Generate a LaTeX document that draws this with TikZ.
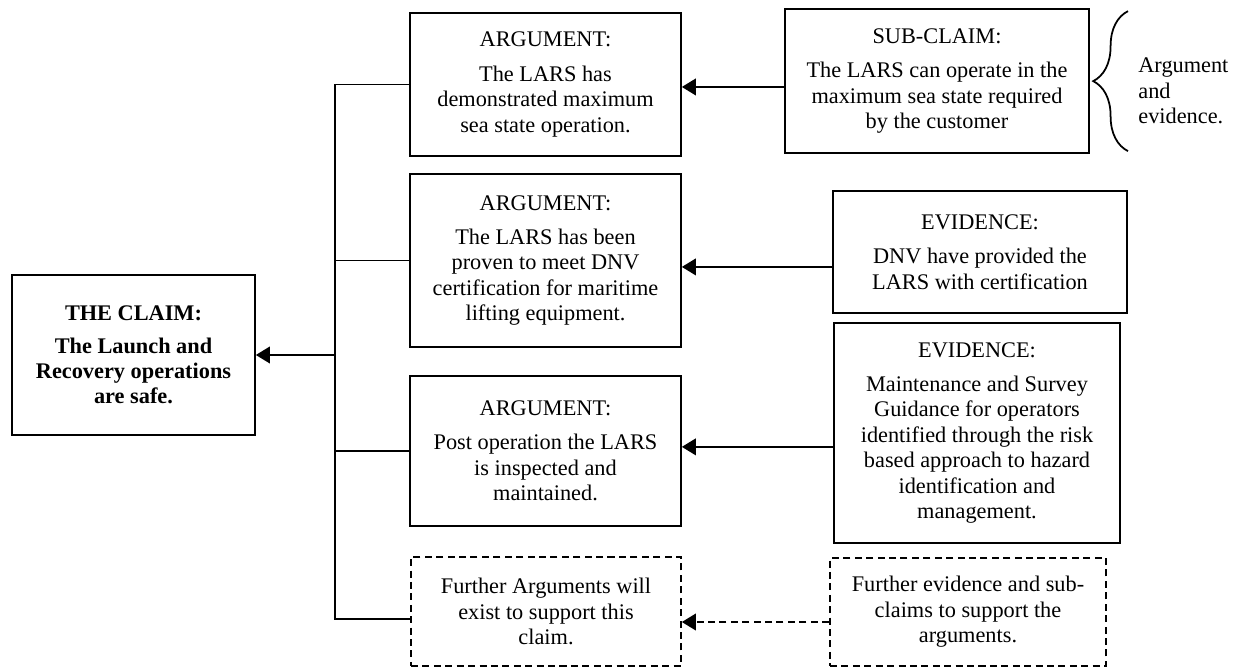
\documentclass[tikz,border=0pt]{standalone}
\usepackage{fontspec}
\setmainfont{Liberation Serif}
\usetikzlibrary{arrows.meta,decorations.pathreplacing}
\newcommand\chu{\fontsize{12.7}{14.5}\selectfont}
\begin{document}
\begin{tikzpicture}[x=.02cm,y=-.02cm,font=\chu,
 hop/.style={draw,line width=1pt,align=center,inner sep=2pt},
 hopmo/.style={hop,dash pattern=on 4pt off 2.5pt},
 noi/.style={line width=1pt}]
 \useasboundingbox (0,0) rectangle (1238,668);
 \path
 (133.5,355) node[hop,minimum width=4.86cm,minimum height=3.2cm,
 font=\chu\bfseries] (claim) {THE CLAIM:\\[4pt]The Launch and\\Recovery operations\\are safe.} % <<< cột 1
 (545.5,84.5) node[hop,minimum width=5.42cm,minimum height=2.86cm] (a1)
 {ARGUMENT:\\[5pt]The LARS has\\demonstrated maximum\\sea state operation.} % <<< cột 2
 (545.5,260.5) node[hop,minimum width=5.42cm,minimum height=3.46cm] (a2)
 {ARGUMENT:\\[5pt]The LARS has been\\proven to meet DNV\\certification for maritime\\lifting equipment.}
 (545.5,451) node[hop,minimum width=5.42cm,minimum height=3cm] (a3)
 {ARGUMENT:\\[5pt]Post operation the LARS\\is inspected and\\maintained.}
 (546,611.5) node[hopmo,minimum width=5.4cm,minimum height=2.18cm] (a4)
 {Further Arguments will\\exist to support this\\claim.}
 (937,81) node[hop,minimum width=6.08cm,minimum height=2.88cm] (sub) % <<< cột 3
 {SUB-CLAIM:\\[5pt]The LARS can operate in the\\maximum sea state required\\by the customer}
 (980,252) node[hop,minimum width=5.88cm,minimum height=2.44cm] (e1)
 {EVIDENCE:\\[5pt]DNV have provided the\\LARS with certification}
 (977,433) node[hop,minimum width=5.72cm,minimum height=4.4cm] (e2)
 {EVIDENCE:\\[5pt]Maintenance and Survey\\Guidance for operators\\identified through the risk\\based approach to hazard\\identification and\\management.}
 (968,612) node[hopmo,minimum width=5.52cm,minimum height=2.16cm] (e3)
 {Further evidence and sub-\\claims to support the\\arguments.}
 (1138,91) node[anchor=west,align=left,inner sep=0pt] (nhan)
 {Argument\\and\\evidence.};
 % thân nối các luận cứ
 \coordinate (goc) at (335,355);
 \coordinate (d4) at ([yshift=-4.3pt]a4.west);
 \draw[noi] (a1.west) -| (goc) |- (d4);
 \draw[noi] (a2.west) -- (a2.west -| goc);
 \draw[noi] (a3.west) -- (a3.west -| goc);
 % điểm xuất phát mũi tên
 \coordinate (s0) at ([yshift=-3.4pt]sub.west);
 \coordinate (s1) at ([yshift=-8.5pt]e1.west);
 \coordinate (s2) at ([yshift=-7.9pt]e2.west);
 \coordinate (s3) at ([yshift=-5.7pt]e3.west);
 \begin{scope}[noi,-{Triangle[length=8pt,width=9.5pt]}]
 \draw (goc) -- (claim.east);
 \draw (s0) -- (s0 -| a1.east);
 \draw (s1) -- (s1 -| a2.east);
 \draw (s2) -- (s2 -| a3.east);
 \draw[dash pattern=on 4pt off 2.5pt] (s3) -- (s3 -| a4.east);
 \end{scope}
 \draw[noi,decorate,decoration={brace,amplitude=19.8pt}]
 (sub.north east -| 1128,0) ++(0,143) -- ++(0,-140);
\end{tikzpicture}
\end{document}
